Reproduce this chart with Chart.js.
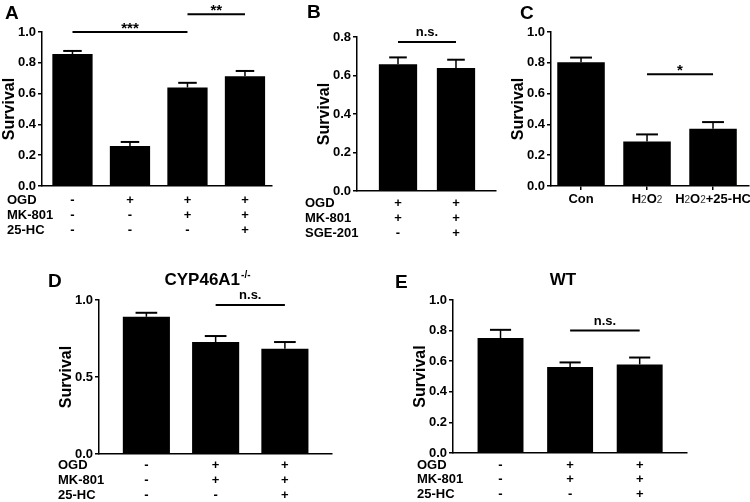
<!DOCTYPE html>
<html>
<head>
<meta charset="utf-8">
<script src="https://cdn.jsdelivr.net/npm/chart.js@4"></script>
<style>
  body { margin: 0; background: #fff; }
  #wrap { position: relative; width: 750px; height: 502px; }
  canvas { position: absolute; left: 0; top: 0; }
</style>
</head>
<body>
<div id="wrap">
  <canvas id="panelA" width="750" height="502"></canvas>
  <canvas id="panelB" width="750" height="502"></canvas>
  <canvas id="panelC" width="750" height="502"></canvas>
  <canvas id="panelD" width="750" height="502"></canvas>
  <canvas id="panelE" width="750" height="502"></canvas>
</div>
<script>
// ---------- data ----------
const aValues = [0.857, 0.26, 0.64, 0.712];
const aErrors = [0.02, 0.026, 0.03, 0.035];
const aTicks = [0, 0.2, 0.4, 0.6, 0.8, 1.0];
const aRowNames = ["OGD", "MK-801", "25-HC"];
const aOGD = ["-", "+", "+", "+"];
const aMK801 = ["-", "-", "+", "+"];
const a25HC = ["-", "-", "-", "+"];
const aSig = [[1, 3, 1.0, "***"], [3, 4, 1.115, "**"]];

const bValues = [0.658, 0.639];
const bErrors = [0.036, 0.043];
const bTicks = [0, 0.2, 0.4, 0.6, 0.8];
const bRowNames = ["OGD", "MK-801", "SGE-201"];
const bOGD = ["+", "+"];
const bMK801 = ["+", "+"];
const bSGE201 = ["-", "+"];
const bSig = [[1, 2, 0.774, "n.s."]];

const cLabels = ["Con", "H2O2", "H2O2+25-HC"];
const cValues = [0.804, 0.289, 0.372];
const cErrors = [0.03, 0.046, 0.043];
const cTicks = [0, 0.2, 0.4, 0.6, 0.8, 1.0];
const cSig = [[2, 3, 0.726, "*"]];

const dValues = [0.891, 0.727, 0.683];
const dErrors = [0.026, 0.039, 0.044];
const dTicks = [0, 0.5, 1.0];
const dSig = [[2, 3, 0.967, "n.s."]];

const eValues = [0.751, 0.562, 0.579];
const eErrors = [0.054, 0.03, 0.045];
const eTicks = [0, 0.2, 0.4, 0.6, 0.8, 1.0];
const eSig = [[2, 3, 0.8, "n.s."]];

const deRowNames = ["OGD", "MK-801", "25-HC"];
const deOGD = ["-", "+", "+"];
const deMK801 = ["-", "+", "+"];
const de25HC = ["-", "-", "+"];

Chart.defaults.font.family = "'Liberation Sans', Arial, sans-serif";
Chart.defaults.color = "#000";

const FONT = "'Liberation Sans', Arial, sans-serif";
const Y_WIDTH = 42;

// text like H2O2 with the small 2s
function drawChem(ctx, str, cx, cy) {
  const parts = [...str].map((c, k) => ({
    c, small: c === "2" && /[HO]/.test(str[k - 1] || ""),
  }));
  const fontOf = (p) => (p.small ? "10px " + FONT : "bold 13px " + FONT);
  let total = 0;
  parts.forEach((p) => { ctx.font = fontOf(p); total += ctx.measureText(p.c).width; });
  let x = cx - total / 2;
  ctx.textAlign = "left";
  ctx.textBaseline = "middle";
  parts.forEach((p) => {
    ctx.font = fontOf(p);
    ctx.fillStyle = p.small ? "#333" : "#000";
    ctx.fillText(p.c, x, cy + (p.small ? 1 : 0));
    x += ctx.measureText(p.c).width;
  });
  ctx.fillStyle = "#000";
}

// error bars, significance lines, row labels, letters
function makeExtras(cfg) {
  return {
    id: "extras",
    afterDraw(chart) {
      const { ctx, chartArea } = chart;
      const xs = chart.scales.x, ys = chart.scales.y;
      const bars = chart.getDatasetMeta(0).data;
      ctx.save();
      ctx.strokeStyle = "#000";
      ctx.fillStyle = "#000";

      bars.forEach((bar, i) => {
        const top = ys.getPixelForValue(cfg.values[i] + cfg.errors[i]);
        const half = bar.width * 0.23;
        ctx.lineWidth = 1.5;
        ctx.beginPath(); ctx.moveTo(bar.x, bar.y); ctx.lineTo(bar.x, top); ctx.stroke();
        ctx.lineWidth = 2;
        ctx.beginPath(); ctx.moveTo(bar.x - half, top); ctx.lineTo(bar.x + half, top); ctx.stroke();
      });

      (cfg.sig || []).forEach(([from, to, level, label]) => {
        const x1 = xs.getPixelForValue(from), x2 = xs.getPixelForValue(to);
        const y = ys.getPixelForValue(level);
        ctx.lineWidth = 2;
        ctx.beginPath(); ctx.moveTo(x1, y); ctx.lineTo(x2, y); ctx.stroke();
        ctx.textAlign = "center";
        ctx.textBaseline = "alphabetic";
        if (label.includes("*")) {
          ctx.font = "bold 15px " + FONT;
          ctx.fillText(label, (x1 + x2) / 2, y + 1);
        } else {
          ctx.font = "bold 13px " + FONT;
          ctx.fillText(label, (x1 + x2) / 2, y - 6);
        }
      });

      if (cfg.rows) {
        ctx.font = "bold 13px " + FONT;
        ctx.textBaseline = "middle";
        cfg.rows.forEach((row, r) => {
          const y = chartArea.bottom + cfg.rowOffset + r * cfg.rowStep;
          ctx.textAlign = "left";
          ctx.fillText(cfg.rowNames[r], cfg.rowX, y);
          ctx.textAlign = "center";
          row.forEach((s, i) => ctx.fillText(s, xs.getPixelForValue(i + 1), y));
        });
      }

      if (cfg.labels) {
        cfg.labels.forEach((lab, i) =>
          drawChem(ctx, lab, xs.getPixelForValue(i + 1), chartArea.bottom + 13));
      }

      ctx.textAlign = "left";
      ctx.textBaseline = "alphabetic";
      ctx.font = "bold 19px " + FONT;
      ctx.fillText(cfg.letter[0], cfg.letter[1], cfg.letter[2]);

      if (cfg.title) {
        ctx.font = "bold 17px " + FONT;
        const [text, tx, ty, sup] = cfg.title;
        const w = ctx.measureText(text).width;
        let sw = 0;
        if (sup) { ctx.font = "bold 10px " + FONT; sw = ctx.measureText(sup).width; }
        const left = tx - (w + sw) / 2;
        ctx.font = "bold 17px " + FONT;
        ctx.fillText(text, left, ty);
        if (sup) { ctx.font = "bold 10px " + FONT; ctx.fillText(sup, left + w + 1, ty - 7); }
      }
      ctx.restore();
    },
  };
}

function makePanel(id, cfg) {
  const [left, top, right, bottom] = cfg.box;
  return new Chart(document.getElementById(id), {
    type: "bar",
    data: {
      datasets: [{
        data: cfg.values.map((v, i) => ({ x: i + 1, y: v })),
        backgroundColor: "#000",
        borderWidth: 0,
        barPercentage: cfg.bar,
        categoryPercentage: 1,
      }],
    },
    options: {
      responsive: false,
      animation: false,
      events: [],
      layout: { padding: { left: left - Y_WIDTH, top: top, right: 750 - right, bottom: 502 - bottom } },
      scales: {
        x: {
          type: "linear",
          min: cfg.xMin,
          max: cfg.xMax,
          offset: false,
          afterFit: (s) => { s.height = 0; },
          afterBuildTicks: (s) => { s.ticks = cfg.values.map((v, i) => ({ value: i + 1 })); },
          ticks: { display: false },
          grid: { display: !!cfg.xTicks, drawOnChartArea: false, offset: false, tickLength: 4, color: "#000", lineWidth: 1.5 },
          border: { display: true, color: "#000", width: 1.5 },
        },
        y: {
          min: cfg.ticks[0],
          max: cfg.ticks[cfg.ticks.length - 1],
          afterFit: (s) => { s.width = Y_WIDTH; },
          afterBuildTicks: (s) => { s.ticks = cfg.ticks.map((v) => ({ value: v })); },
          ticks: { padding: 2, color: "#000", font: { size: 13, weight: "bold" }, callback: (v) => v.toFixed(1) },
          grid: { drawOnChartArea: false, tickLength: 4, color: "#000", lineWidth: 1.5 },
          border: { color: "#000", width: 1.5 },
          title: { display: true, text: "Survival", color: "#000", font: { size: 16, weight: "bold" }, padding: 0 },
        },
      },
      plugins: { legend: { display: false }, tooltip: { enabled: false } },
    },
    plugins: [makeExtras(cfg)],
  });
}

// ---------- A ----------
makePanel("panelA", {
  values: aValues, errors: aErrors, ticks: aTicks, sig: aSig,
  box: [42, 32, 272, 186], xMin: 0.47, xMax: 4.47, bar: 0.7,
  rows: [aOGD, aMK801, a25HC], rowNames: aRowNames, rowX: 7, rowOffset: 14, rowStep: 15,
  letter: ["A", 5, 19],
});

// ---------- B ----------
makePanel("panelB", {
  values: bValues, errors: bErrors, ticks: bTicks, sig: bSig,
  box: [357, 37, 496, 191], xMin: 0.293, xMax: 2.69, bar: 0.66,
  rows: [bOGD, bMK801, bSGE201], rowNames: bRowNames, rowX: 305, rowOffset: 12, rowStep: 15,
  letter: ["B", 307, 18],
});

// ---------- C ----------
makePanel("panelC", {
  values: cValues, errors: cErrors, ticks: cTicks, sig: cSig,
  box: [551, 32, 749, 186], xMin: 0.545, xMax: 3.545, bar: 0.72, xTicks: true,
  labels: cLabels,
  letter: ["C", 520, 19],
});

// ---------- D ----------
makePanel("panelD", {
  values: dValues, errors: dErrors, ticks: dTicks, sig: dSig,
  box: [99, 300, 332, 454], xMin: 0.316, xMax: 3.68, bar: 0.68,
  rows: [deOGD, deMK801, de25HC], rowNames: deRowNames, rowX: 58, rowOffset: 11.5, rowStep: 15,
  letter: ["D", 48, 287],
  title: ["CYP46A1", 207, 285, "-/-"],
});

// ---------- E ----------
makePanel("panelE", {
  values: eValues, errors: eErrors, ticks: eTicks, sig: eSig,
  box: [453, 300, 687, 453], xMin: 0.317, xMax: 3.68, bar: 0.66,
  rows: [deOGD, deMK801, de25HC], rowNames: deRowNames, rowX: 417, rowOffset: 12, rowStep: 14.5,
  letter: ["E", 395, 288],
  title: ["WT", 563, 285],
});
</script>
</body>
</html>
